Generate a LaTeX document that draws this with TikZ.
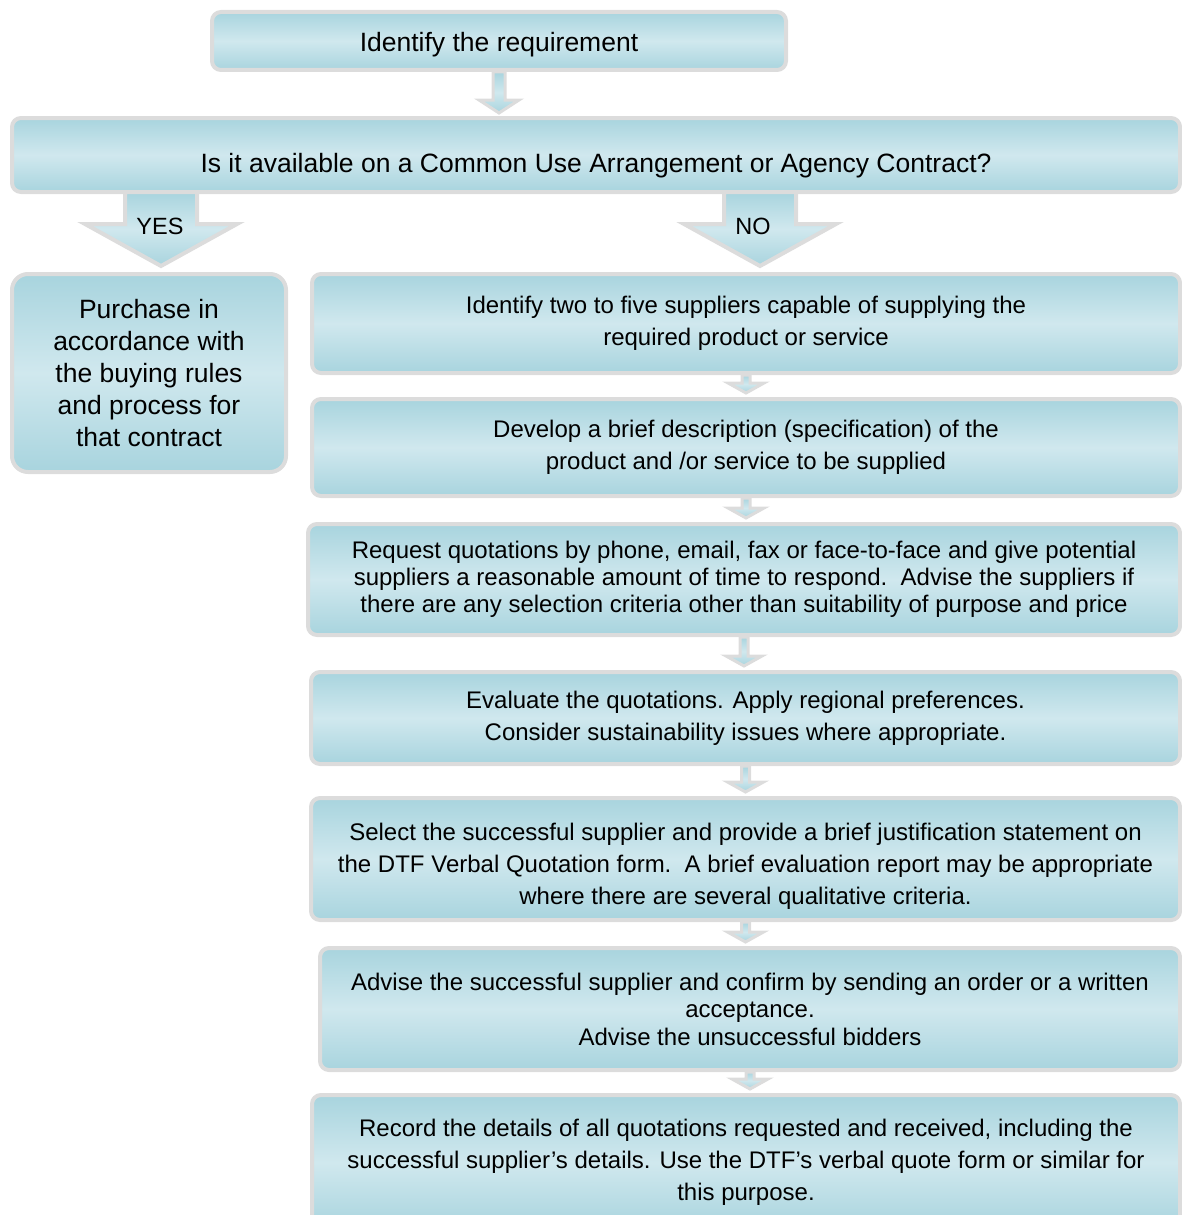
\documentclass[tikz,border=0pt]{standalone}
\usepackage{fontspec}
\setmainfont{Liberation Sans}
\usetikzlibrary{calc}
\definecolor{boxgray}{HTML}{DCDCDC}
\definecolor{tealedge}{HTML}{A8D4DE}
\definecolor{tealmid}{HTML}{D0E8EE}
\newcommand{\blockdown}[6]{%
  \draw[#1] let \p1=(#2), \p2=(#3) in
    (\x1-#4,\y1) -- (\x1-#4,\y2+#6) -- (\x1-#5,\y2+#6) -- (\x1,\y2)
    -- (\x1+#5,\y2+#6) -- (\x1+#4,\y2+#6) -- (\x1+#4,\y1) -- cycle;}
\begin{document}
\begin{tikzpicture}[x=1pt, y=-1pt,
						box/.style={draw=boxgray, line width=4pt, rounded corners=9pt, top color=tealedge, bottom color=tealedge, middle color=tealmid, align=center, inner sep=0pt, font=\fontsize{24}{32}\selectfont},
						widebox/.style={box, minimum width=868},
						bigarrow/.style={draw=boxgray, line width=4pt, line join=miter, top color=tealedge, bottom color=tealedge, middle color=tealmid},
						smallarrow/.style={bigarrow, line width=3pt},
						answer/.style={font=\fontsize{23.5}{26}\selectfont, inner sep=0pt}]
		\clip (0,0) rectangle (1182,1215);
		\node (req) [box, minimum width=574, minimum height=58, text height=21.5pt, text depth=0pt, font=\fontsize{26.5}{30}\selectfont] at (499,41) {Identify the requirement};
		\node (ask) [box, minimum width=1168, minimum height=74, text height=35pt, text depth=0pt, font=\fontsize{26.5}{30}\selectfont] at (596,155) {Is it available on a Common Use Arrangement or Agency Contract?};
		\node (buy) [box, minimum width=274, minimum height=198, rounded corners=16pt, font=\fontsize{26.5}{32}\selectfont] at (149,373) {Purchase in\\accordance with\\the buying rules\\and process for\\that contract};
		\node (find) [widebox, minimum height=99] at (746,323.5) {Identify two to five suppliers capable of supplying the\\required product or service};
		\node (spec) [widebox, minimum height=97] at (746,447.5) {Develop a brief description (specification) of the\\product and /or service to be supplied};
		\node (quote) [widebox, minimum width=872, minimum height=111, font=\fontsize{24}{27}\selectfont] at (744,579.5) {Request quotations by phone, email, fax or face-to-face and give potential\\suppliers a reasonable amount of time to respond.\ \ Advise the suppliers if\\there are any selection criteria other than suitability of purpose and price};
		\node (eval) [widebox, minimum width=869, minimum height=92] at (745.5,718) {Evaluate the quotations. Apply regional preferences.\\Consider sustainability issues where appropriate.};
		\node (select) [widebox, minimum width=869, minimum height=122, text height=96pt] at (745.5,859) {Select the successful supplier and provide a brief justification statement on\\the DTF Verbal Quotation form.\ \ A brief evaluation report may be appropriate\\where there are several qualitative criteria.};
		\node (advise) [widebox, minimum width=860, minimum height=122, font=\fontsize{24}{27.5}\selectfont] at (750,1009) {Advise the successful supplier and confirm by sending an order or a written\\acceptance.\\Advise the unsuccessful bidders};
		\node (record) [widebox, minimum height=135] at (746,1162.5) {Record the details of all quotations requested and received, including the\\successful supplier’s details. Use the DTF’s verbal quote form or similar for\\this purpose.};

		\coordinate (yesfrom) at (161,192);
		\coordinate (yesto) at (161,266);
		\coordinate (nofrom) at (760,192);
		\coordinate (noto) at (760,266);

		\blockdown{smallarrow}{req.south}{[yshift=3pt]ask.north}{6pt}{20pt}{13pt}
		\blockdown{bigarrow}{yesfrom}{yesto}{36pt}{76pt}{42pt}
		\blockdown{bigarrow}{nofrom}{noto}{36pt}{76pt}{42pt}
		\foreach \fromnode/\tonode in {find/spec, spec/quote, quote/eval, eval/select, select/advise, advise/record}
			{\blockdown{smallarrow}{\fromnode.south}{[yshift=4pt]\tonode.north}{4pt}{18pt}{10pt}}

		\node (yes) [answer] at (160,226) {YES};
		\node (no) [answer] at (753,226) {NO};
	\end{tikzpicture}
\end{document}
